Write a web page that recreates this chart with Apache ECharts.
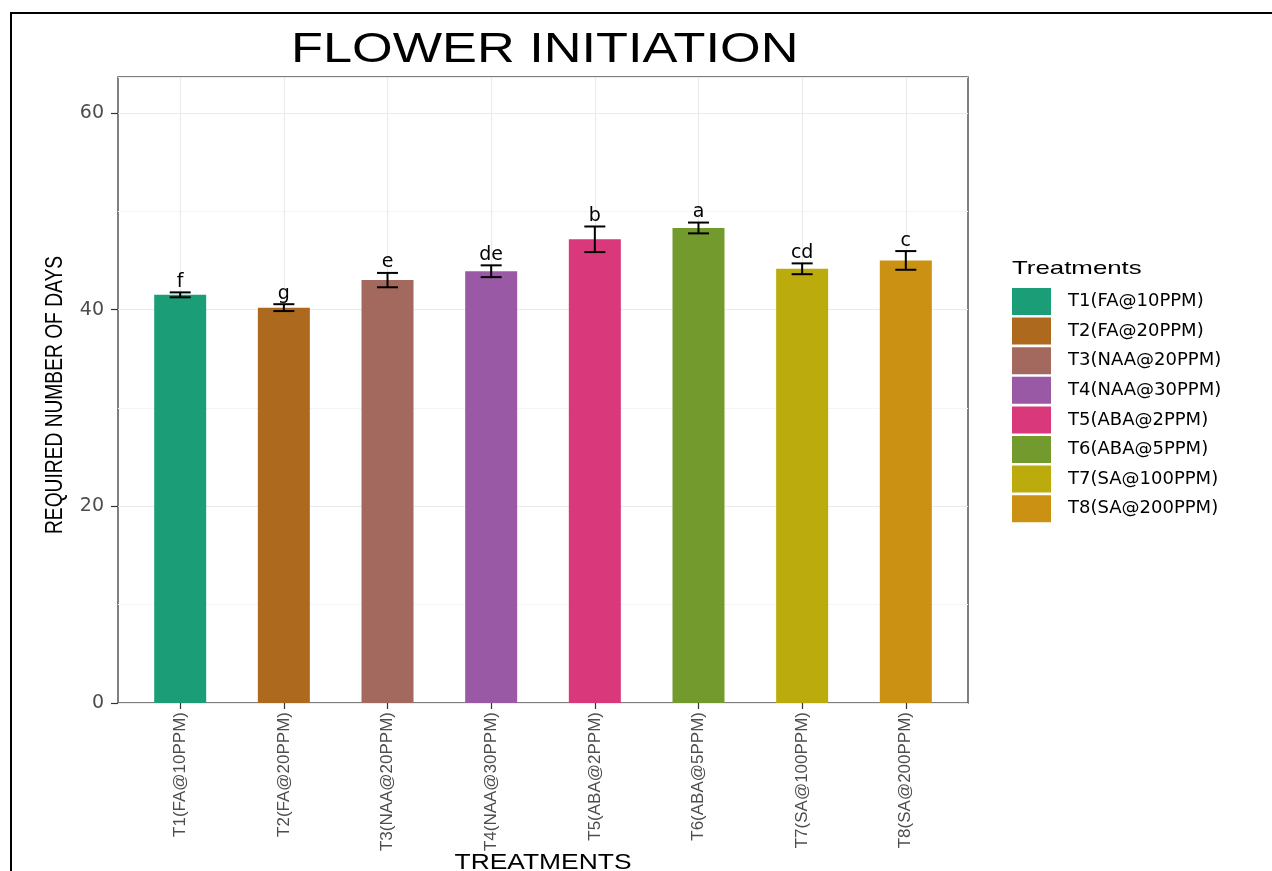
<!DOCTYPE html>
<html>
<head>
<meta charset="utf-8">
<script src="https://cdn.jsdelivr.net/npm/echarts@6/dist/echarts.min.js"></script>
<style>
  html, body { margin: 0; padding: 0; background: #fff; }
  #main { width: 1272px; height: 871px; }
</style>
</head>
<body>
<div id="main"></div>
<script>
// treatments and means (days), with error bars and letters of significance
var categories = ['T1(FA@10PPM)', 'T2(FA@20PPM)', 'T3(NAA@20PPM)', 'T4(NAA@30PPM)',
    'T5(ABA@2PPM)', 'T6(ABA@5PPM)', 'T7(SA@100PPM)', 'T8(SA@200PPM)'];
var values = [41.5, 40.2, 43.0, 43.9, 47.15, 48.3, 44.15, 45.0];
var errors = [0.25, 0.35, 0.73, 0.6, 1.3, 0.55, 0.55, 0.95];
var letters = ['f', 'g', 'e', 'de', 'b', 'a', 'cd', 'c'];
var colors = ['#1b9e77', '#ad6a1e', '#a3695f', '#9a59a5', '#d9387a', '#739a2c', '#bcab0c', '#ca9112'];

var yMax = 63.65;
var band = 850 / 8.2; // ggplot discrete expansion of 0.6 each side

var myChart = echarts.init(document.getElementById('main'));

var series = [];
// vertical grid lines at category centres
series.push({
    type: 'line',
    name: 'vgrid',
    xAxisIndex: 1,
    yAxisIndex: 2,
    data: [],
    markLine: {
        silent: true,
        z: 1,
        symbol: ['none', 'none'],
        label: { show: false },
        lineStyle: { color: '#ebebeb', width: 1.2, type: 'solid' },
        data: categories.map(function (c) { return { xAxis: c }; })
    }
});

for (var i = 0; i < categories.length; i++) {
    series.push({
        type: 'bar',
        name: categories[i],
        xAxisIndex: 1,
        yAxisIndex: 2,
        barWidth: 52,
        barGap: '-100%',
        z: 2,
        itemStyle: { color: colors[i] },
        data: categories.map(function (c, j) { return j == i ? values[i] : '-'; })
    });
}

// error bars + letters
series.push({
    type: 'custom',
    name: 'err',
    xAxisIndex: 1,
    yAxisIndex: 2,
    z: 3,
    data: values.map(function (v, i) { return [i, v - errors[i], v + errors[i]]; }),
    renderItem: function (params, api) {
        var lo = api.coord([api.value(0), api.value(1)]);
        var hi = api.coord([api.value(0), api.value(2)]);
        var hw = 10.5;
        var st = { stroke: '#000', lineWidth: 2 };
        return {
            type: 'group',
            children: [
                { type: 'line', shape: { x1: lo[0], y1: lo[1], x2: hi[0], y2: hi[1] }, style: st },
                { type: 'line', shape: { x1: hi[0] - hw, y1: hi[1], x2: hi[0] + hw, y2: hi[1] }, style: st },
                { type: 'line', shape: { x1: lo[0] - hw, y1: lo[1], x2: lo[0] + hw, y2: lo[1] }, style: st },
                {
                    type: 'text',
                    x: hi[0],
                    y: hi[1] - 1,
                    style: {
                        text: letters[params.dataIndex],
                        font: '19px "DejaVu Sans"',
                        fill: '#000',
                        align: 'center',
                        verticalAlign: 'bottom'
                    }
                }
            ]
        };
    }
});

var option = {
    animation: false,
    backgroundColor: '#fff',
    grid: [
        { left: 118, top: 77, width: 850, height: 626, show: true, borderColor: '#555', borderWidth: 1.5, backgroundColor: 'transparent' },
        { left: 118 + 0.6 * band - band / 2, top: 77, width: band * 8, height: 626 }
    ],
    xAxis: [
        { type: 'value', gridIndex: 0, min: 0, max: 1, show: false },
        {
            type: 'category',
            gridIndex: 1,
            data: categories,
            axisLine: { show: false },
            axisTick: { show: true, alignWithLabel: true, length: 6, lineStyle: { color: '#333', width: 1.2 } },
            axisLabel: {
                rotate: 90,
                margin: 9,
                color: '#4d4d4d',
                fontFamily: 'Liberation Sans',
                fontSize: 17
            },
            splitLine: { show: false }
        }
    ],
    yAxis: [
        {
            // minor grid
            type: 'value', gridIndex: 0, position: 'left', min: 0, max: yMax, interval: 10,
            axisLine: { show: false }, axisTick: { show: false }, axisLabel: { show: false },
            splitLine: { show: true, lineStyle: { color: '#f4f4f4', width: 1 } }
        },
        {
            type: 'value', gridIndex: 0, position: 'left', min: 0, max: yMax, interval: 20,
            axisLine: { show: false },
            axisTick: { show: true, length: 7, lineStyle: { color: '#333', width: 1.2 } },
            axisLabel: { color: '#4d4d4d', fontFamily: 'DejaVu Sans', fontSize: 19, margin: 14, showMaxLabel: false },
            splitLine: { show: true, lineStyle: { color: '#ebebeb', width: 1.2 } }
        },
        { type: 'value', gridIndex: 1, min: 0, max: yMax, show: false }
    ],
    legend: {
        data: categories,
        orient: 'vertical',
        left: 1012,
        top: 288,
        padding: 0,
        itemWidth: 39,
        itemHeight: 27,
        itemGap: 2.6,
        icon: 'rect',
        selectedMode: false,
        textStyle: { color: '#000', fontFamily: 'DejaVu Sans', fontSize: 18, padding: [0, 0, 0, 12] }
    },
    graphic: [
        {
            type: 'polyline',
            shape: { points: [[11, 871], [11, 13], [1272, 13]] },
            style: { stroke: '#000', lineWidth: 2, fill: null }
        },
        {
            type: 'text', x: 291, y: 29, scaleX: 1.245,
            style: { text: 'FLOWER INITIATION', font: '42px "Liberation Sans"', fill: '#000', align: 'left', verticalAlign: 'top' }
        },
        {
            type: 'text', x: 1012, y: 259, scaleX: 1.36,
            style: { text: 'Treatments', font: '19px "Liberation Sans"', fill: '#000', align: 'left', verticalAlign: 'top' }
        },
        {
            type: 'text', x: 543, y: 852, scaleX: 1.2,
            style: { text: 'TREATMENTS', font: '22px "Liberation Sans"', fill: '#000', align: 'center', verticalAlign: 'top' }
        },
        {
            type: 'text', x: 55, y: 395, rotation: Math.PI / 2, scaleX: 0.8,
            style: { text: 'REQUIRED NUMBER OF DAYS', font: '24px "Liberation Sans"', fill: '#000', align: 'center', verticalAlign: 'middle' }
        }
    ],
    series: series
};

myChart.setOption(option);
</script>
</body>
</html>
